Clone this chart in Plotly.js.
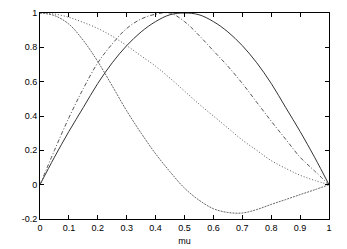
<!DOCTYPE html>
<html>
<head>
<meta charset="utf-8">
<script src="https://cdn.plot.ly/plotly-3.0.1.min.js"></script>
<style>html,body{margin:0;padding:0;background:#fff;}#chart{width:347px;height:249px;}</style>
</head>
<body>
<div id="chart"></div>
<script>
var mu = [0, 0.05, 0.1, 0.15, 0.2, 0.25, 0.3, 0.35, 0.4, 0.45, 0.5, 0.55, 0.6, 0.65, 0.7, 0.75, 0.8, 0.85, 0.9, 0.95, 1];
var solidCurve = [0, 0.16, 0.31, 0.45, 0.59, 0.71, 0.81, 0.89, 0.95, 0.99, 1.0, 0.99, 0.95, 0.89, 0.81, 0.71, 0.59, 0.45, 0.31, 0.16, 0];
var dashDotCurve = [0, 0.2, 0.39, 0.56, 0.71, 0.82, 0.91, 0.965, 0.993, 1.0, 0.95, 0.87, 0.78, 0.69, 0.59, 0.48, 0.37, 0.265, 0.16, 0.08, 0];
var dottedCurve = [1, 0.994, 0.975, 0.945, 0.91, 0.865, 0.81, 0.75, 0.69, 0.62, 0.545, 0.47, 0.4, 0.33, 0.26, 0.2, 0.14, 0.095, 0.055, 0.025, 0];
var dashedCurve = [1, 0.985, 0.935, 0.84, 0.717, 0.575, 0.43, 0.3, 0.18, 0.075, -0.02, -0.09, -0.14, -0.162, -0.165, -0.145, -0.115, -0.087, -0.058, -0.03, 0];
var xTicks = [0, 0.1, 0.2, 0.3, 0.4, 0.5, 0.6, 0.7, 0.8, 0.9, 1];
var xTickText = ["0", "0.1", "0.2", "0.3", "0.4", "0.5", "0.6", "0.7", "0.8", "0.9", "1"];
var yTicks = [-0.2, 0, 0.2, 0.4, 0.6, 0.8, 1];
var yTickText = ["-0.2", "0", "0.2", "0.4", "0.6", "0.8", "1"];

function tr(y, color, dash) {
  return {x: mu, y: y, mode: 'lines', line: {color: color, width: 1, dash: dash, shape: 'spline', smoothing: 1}, hoverinfo: 'skip'};
}
var data = [
  tr(solidCurve, '#333', 'solid'),
  tr(dashDotCurve, '#555', '4px,2px,1px,2px'),
  tr(dottedCurve, '#555', '1px,2px'),
  tr(dashedCurve, '#666', '2px,1px')
];
var fontFam = 'Liberation Sans, Arial, sans-serif';
var axisCommon = {
  showgrid: false, zeroline: false, showline: true, linecolor: '#000', linewidth: 1,
  mirror: 'ticks', ticks: 'inside', ticklen: 4, tickwidth: 1, tickcolor: '#000',
  tickfont: {family: fontFam, size: 9, color: '#000'}
};
var layout = {
  width: 347, height: 249,
  margin: {l: 40, r: 18, t: 13, b: 30},
  paper_bgcolor: '#fff', plot_bgcolor: '#fff',
  showlegend: false,
  xaxis: Object.assign({}, axisCommon, {
    range: [0, 1], tickvals: xTicks, ticktext: xTickText,
    title: {text: 'mu', font: {family: fontFam, size: 9, color: '#000'}, standoff: 5}
  }),
  yaxis: Object.assign({}, axisCommon, {
    range: [-0.2, 1], tickvals: yTicks, ticktext: yTickText
  })
};
Plotly.newPlot('chart', data, layout, {staticPlot: true, displayModeBar: false});
</script>
</body>
</html>
